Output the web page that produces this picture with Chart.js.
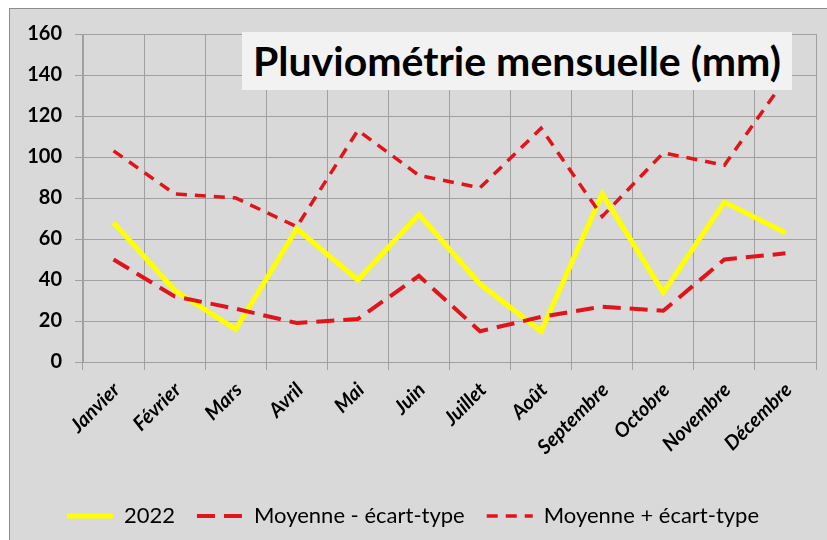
<!DOCTYPE html>
<html>
<head>
<meta charset="utf-8">
<script src="https://cdn.jsdelivr.net/npm/chart.js@4"></script>
<style>
  html, body { margin: 0; padding: 0; background: #fff; }
  #wrap {
    position: absolute; left: 9px; top: 8px;
    width: 817px; height: 531px;
    background: #d9d9d9;
    border-left: 1px solid #8c8c8c; border-top: 1px solid #8c8c8c;
  }
  #pluie { position: absolute; left: 0; top: 0; }
  #titre {
    position: absolute; left: 232px; top: 23px; width: 550px; height: 58px;
    background: #f2f2f2; color: #000;
    font: bold 41px Lato, sans-serif; line-height: 58px; text-align: center;
  }
</style>
</head>
<body>
<div id="wrap">
  <canvas id="pluie" width="817" height="531"></canvas>
  <div id="titre">Pluviométrie mensuelle (mm)</div>
</div>
<script>
// Pluviométrie mensuelle — 2022 vs moyenne ± écart-type

const MOIS = ['Janvier', 'Février', 'Mars', 'Avril', 'Mai', 'Juin', 'Juillet', 'Août',
              'Septembre', 'Octobre', 'Novembre', 'Décembre'];
const PLUIE_2022 = [68, 35, 16, 65, 40, 72, 38, 15, 82, 34, 78, 63];
const MOY_MOINS  = [50, 32, 26, 19, 21, 42, 15, 22, 27, 25, 50, 53];
const MOY_PLUS   = [103, 82, 80, 66, 113, 91, 85, 114, 71, 102, 96, 138];
const Y_TICKS    = [0, 20, 40, 60, 80, 100, 120, 140, 160];

const ROUGE = '#e0141b';
const GRILLE = '#a0a0a0';

// legend samples keep the dataset's dash pattern
function legendeItems(chart) {
  const items = Chart.defaults.plugins.legend.labels.generateLabels(chart);
  items.forEach(it => {
    const ds = chart.data.datasets[it.datasetIndex];
    it.lineDash = ds.borderDash || [];
    it.lineWidth = ds.borderWidth;
    it.strokeStyle = ds.borderColor;
  });
  return items;
}

new Chart(document.getElementById('pluie'), {
  type: 'line',
  data: {
    labels: MOIS,
    datasets: [
      { label: '2022', data: PLUIE_2022, borderColor: '#ffff00', backgroundColor: '#ffff00',
        borderWidth: 5, pointRadius: 0, tension: 0, order: 3 },
      { label: 'Moyenne - écart-type', data: MOY_MOINS, borderColor: ROUGE, backgroundColor: ROUGE,
        borderWidth: 4, borderDash: [18, 9], pointRadius: 0, tension: 0, order: 2 },
      { label: 'Moyenne + écart-type', data: MOY_PLUS, borderColor: ROUGE, backgroundColor: ROUGE,
        borderWidth: 3.5, borderDash: [11, 8], pointRadius: 0, tension: 0, order: 1 },
    ]
  },
  options: {
    responsive: false,
    animation: false,
    layout: { padding: { top: 23, right: 11, left: 0, bottom: 3 } },
    plugins: {
      title: { display: false },
      tooltip: { enabled: false },
      legend: {
        position: 'bottom',
        labels: {
          usePointStyle: true, pointStyle: 'line', pointStyleWidth: 46,
          color: '#000', padding: 22,
          font: { family: 'Lato', size: 22 },
          generateLabels: legendeItems,
          sort: (a, b) => a.datasetIndex - b.datasetIndex,
        }
      }
    },
    scales: {
      x: {
        offset: true,
        grid: { offset: true, color: GRILLE, tickLength: 8, drawTicks: true },
        border: { color: GRILLE },
        ticks: {
          color: '#000', minRotation: 45, maxRotation: 45, labelOffset: 3, padding: 8,
          font: { family: 'Lato', size: 20, weight: 'bold', style: 'italic' }
        },
        afterFit: s => { s.height = 121; }
      },
      y: {
        min: 0, max: 160,
        afterBuildTicks: s => { s.ticks = Y_TICKS.map(v => ({ value: v })); },
        grid: { color: GRILLE, tickLength: 8 },
        border: { color: GRILLE },
        ticks: { color: '#000', padding: 13, font: { family: 'Lato', size: 20, weight: 'bold' } },
        afterFit: s => { s.width = 73; }
      }
    }
  }
});
</script>
</body>
</html>
